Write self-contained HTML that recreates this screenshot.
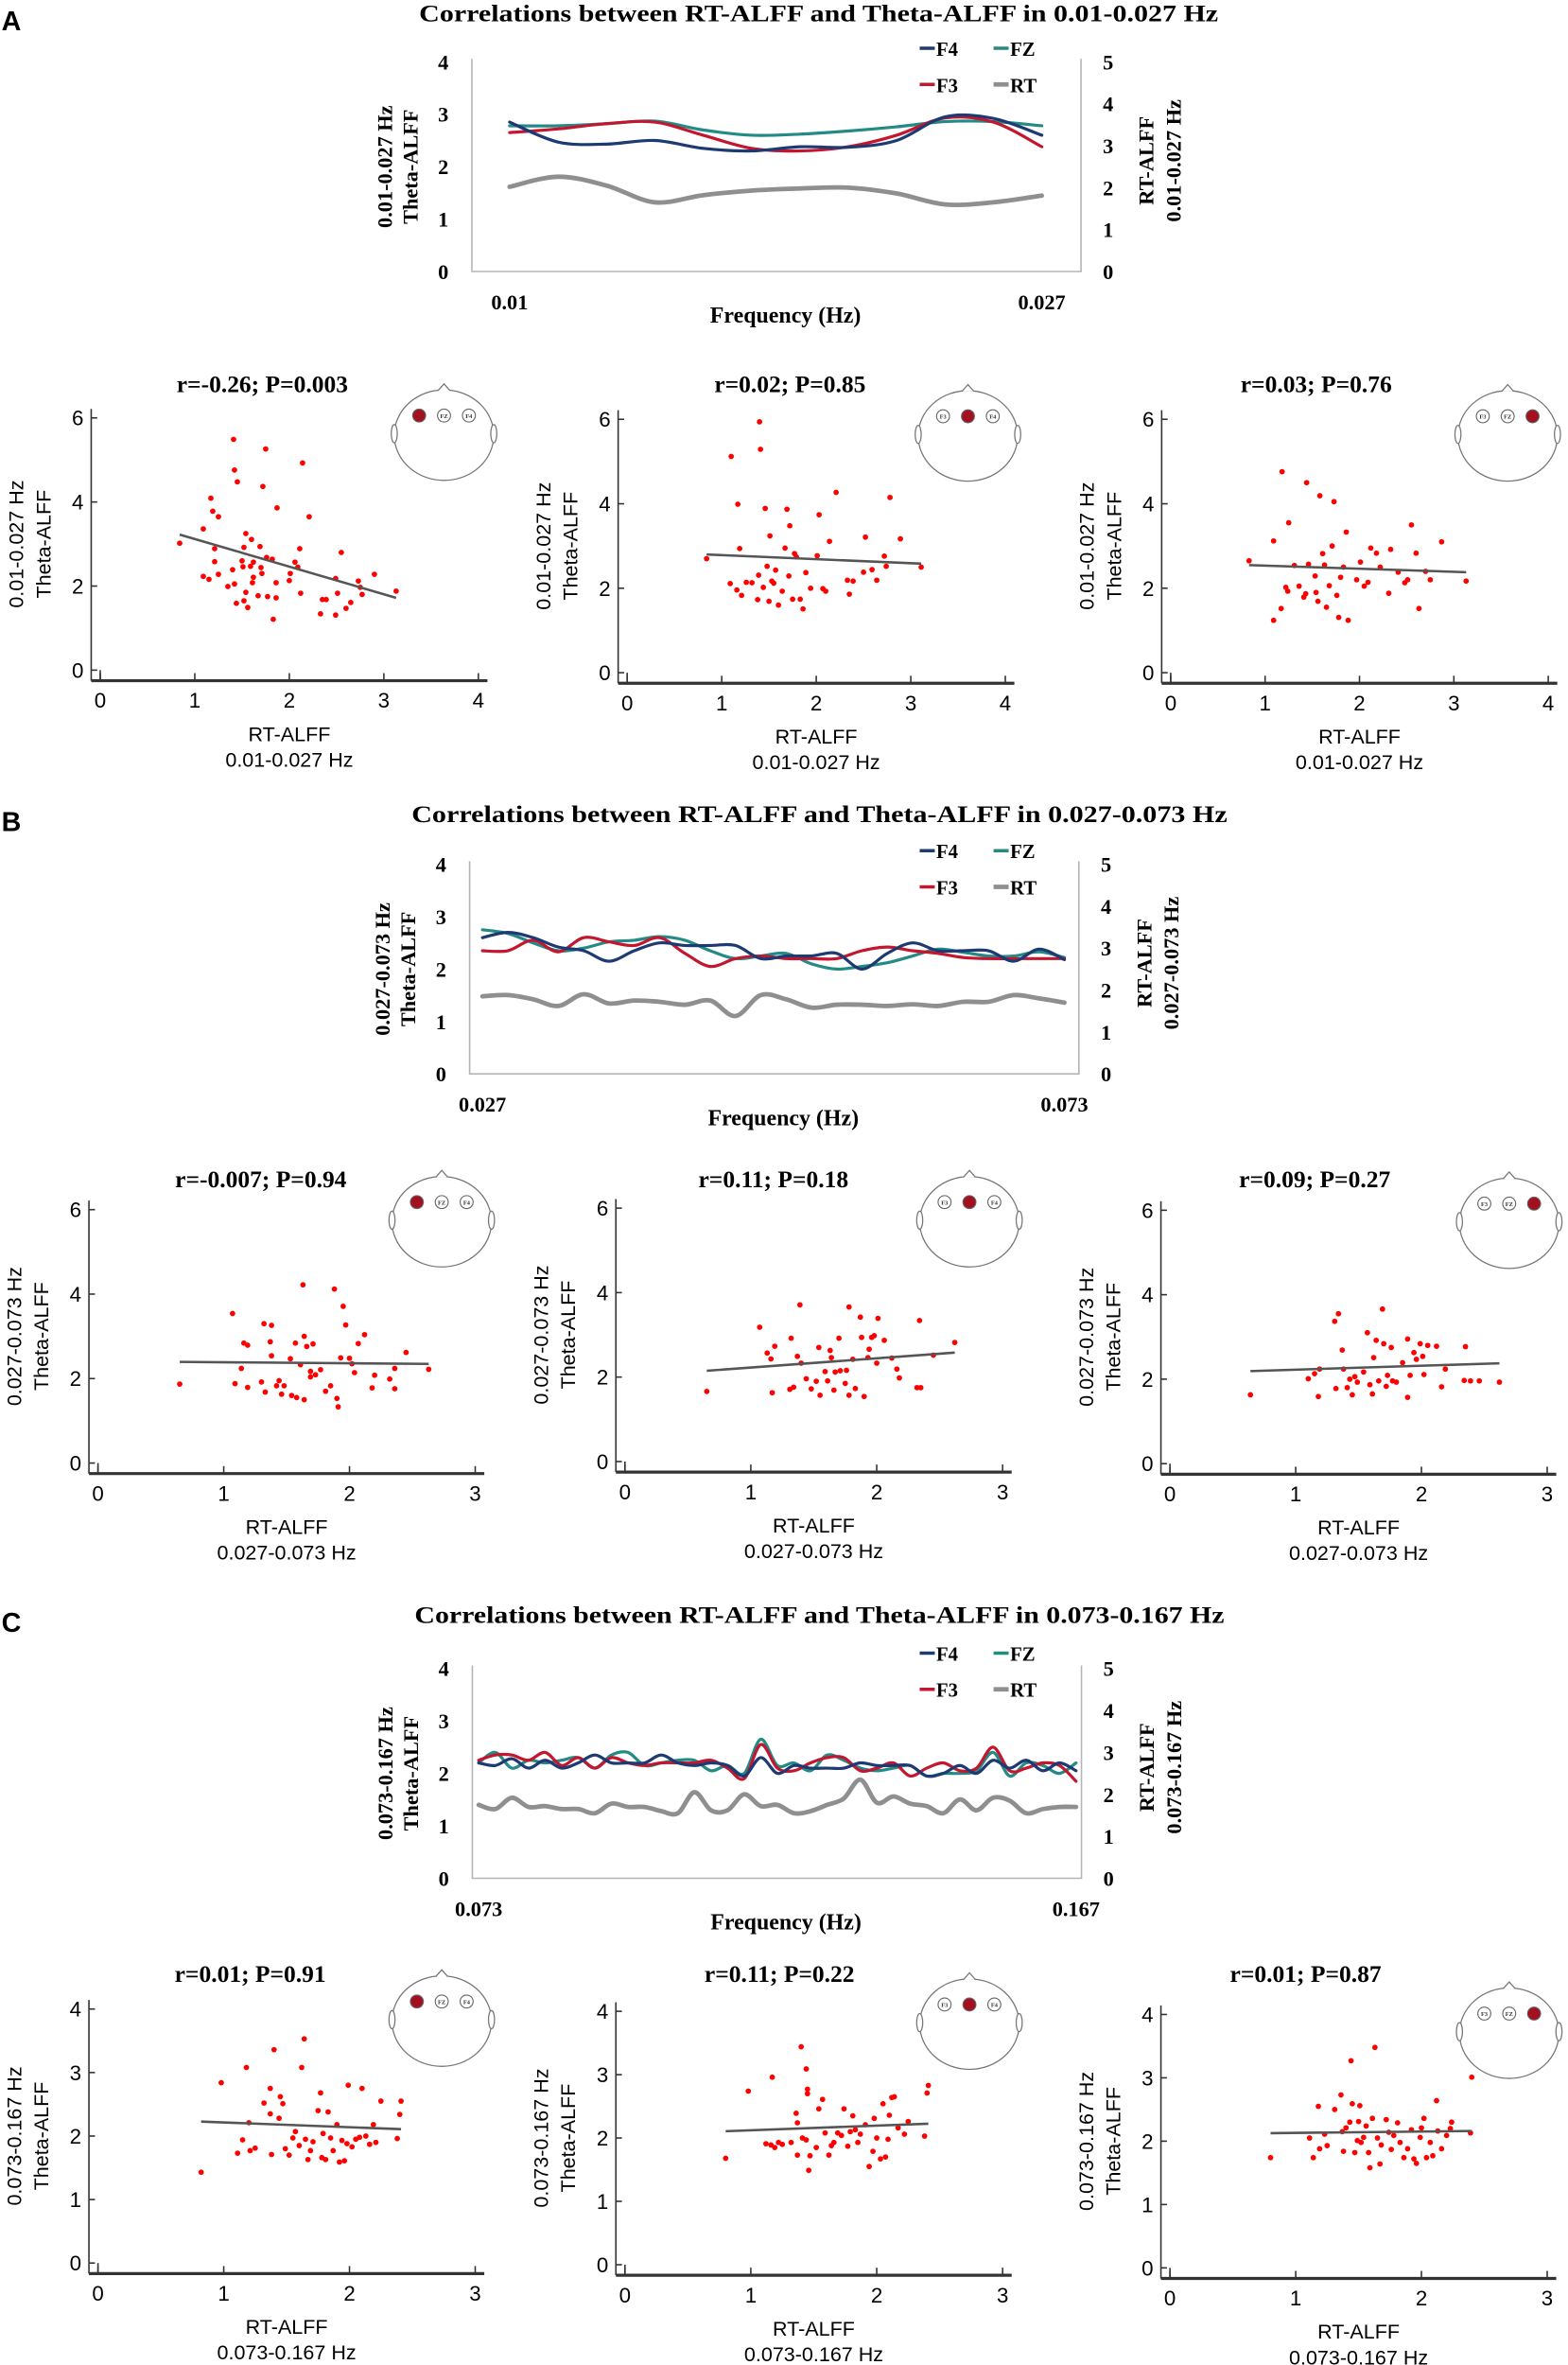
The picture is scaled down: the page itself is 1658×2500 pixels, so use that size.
<!DOCTYPE html>
<html><head><meta charset="utf-8">
<style>
html,body{margin:0;padding:0;background:#fff;}
svg{display:block;}
.ser{font-family:"Liberation Serif",serif;font-weight:bold;}
.san{font-family:"Liberation Sans",sans-serif;}
</style></head>
<body>
<svg id="fig" width="1658" height="2500" viewBox="0 0 1040 1568" preserveAspectRatio="none" xmlns="http://www.w3.org/2000/svg">
<text x="1" y="20" class="san" font-weight="bold" font-size="18">A</text>
<text x="1" y="551" class="san" font-weight="bold" font-size="18">B</text>
<text x="1" y="1082" class="san" font-weight="bold" font-size="18">C</text>
</svg>
<script>
// ---------- line chart data ----------
const lineA_F4=[2.85,2.47,2.43,2.5,2.35,2.3,2.38,2.37,2.5,2.95,2.92,2.6];
const lineA_FZ=[2.78,2.78,2.82,2.87,2.7,2.6,2.62,2.68,2.76,2.86,2.86,2.78];
const lineA_F3=[2.65,2.72,2.82,2.85,2.6,2.35,2.3,2.38,2.6,2.93,2.85,2.38];
const lineA_RT=[2.02,2.26,2.05,1.65,1.82,1.93,1.98,2.0,1.86,1.6,1.65,1.81];
const lineB_F4=[2.6,2.7,2.6,2.42,2.35,2.15,2.35,2.5,2.45,2.45,2.45,2.2,2.25,2.25,2.3,2.0,2.3,2.5,2.35,2.35,2.35,2.15,2.38,2.18];
const lineB_FZ=[2.75,2.68,2.5,2.35,2.4,2.52,2.55,2.62,2.55,2.35,2.2,2.25,2.3,2.1,2.0,2.05,2.12,2.25,2.38,2.32,2.25,2.25,2.33,2.22];
const lineB_F3=[2.35,2.35,2.55,2.33,2.6,2.52,2.45,2.6,2.3,2.05,2.2,2.25,2.2,2.2,2.2,2.35,2.42,2.35,2.3,2.22,2.2,2.2,2.2,2.2];
const lineB_RT=[1.85,1.88,1.78,1.62,1.9,1.68,1.75,1.72,1.65,1.75,1.38,1.88,1.78,1.58,1.65,1.65,1.62,1.66,1.62,1.72,1.72,1.88,1.8,1.7];
const lineC_F4=[2.2,2.15,2.28,2.1,2.25,2.1,2.2,2.35,2.2,2.2,2.2,2.35,2.2,2.15,2.2,2.15,1.95,2.3,2.0,2.15,2.1,2.1,2.1,2.2,2.15,2.15,2.15,1.95,2.0,2.15,2.0,2.25,2.1,2.25,2.05,2.2,2.05];
const lineC_FZ=[2.2,2.4,2.1,2.25,2.2,2.25,2.3,2.1,2.35,2.4,2.15,2.2,2.25,2.25,2.05,2.15,2.0,2.65,2.15,2.2,2.05,2.35,2.25,2.1,2.05,2.1,2.15,1.95,2.0,2.0,2.05,2.4,1.95,2.2,2.15,2.0,2.2];
const lineC_F3=[2.25,2.35,2.35,2.25,2.4,2.15,2.3,2.1,2.3,2.2,2.15,2.2,2.2,2.2,2.25,2.1,1.9,2.55,2.1,2.05,2.2,2.3,2.3,2.05,2.1,2.2,1.95,2.1,2.2,2.05,2.1,2.5,2.05,2.1,2.2,2.15,1.85];
const lineC_RT=[1.75,1.65,1.92,1.7,1.72,1.65,1.65,1.55,1.78,1.7,1.7,1.6,1.55,2.05,1.62,1.62,2.0,1.72,1.75,1.55,1.6,1.75,1.9,2.35,1.8,1.95,1.78,1.72,1.55,1.88,1.62,1.92,1.85,1.55,1.65,1.7,1.7];
const leftTicks=[0,1,2,3,4];
const rightTicks=[0,1,2,3,4,5];

// ---------- scatter data ----------
const sA1_x=[0.84,1.09,1.09,1.15,1.17,1.19,1.21,1.21,1.25,1.25,1.35,1.40,1.41,1.42,1.42,1.45,1.44,1.50,1.51,1.52,1.52,1.54,1.54,1.56,1.59,1.60,1.61,1.62,1.62,1.67,1.69,1.70,1.71,1.72,1.75,1.76,1.77,1.82,1.83,1.86,1.86,1.87,2.00,2.01,2.06,2.09,2.11,2.12,2.14,2.21,2.33,2.35,2.39,2.49,2.49,2.51,2.55,2.60,2.65,2.73,2.75,2.77,2.90,3.13];
const sA1_y=[3.02,3.36,2.23,2.16,4.09,3.78,2.89,2.58,3.65,2.28,1.99,2.39,5.49,4.76,2.05,4.48,1.59,2.60,2.46,1.65,2.92,1.85,3.25,1.49,2.47,3.11,2.08,2.57,2.21,1.77,2.94,2.44,2.30,4.37,5.26,2.68,1.75,2.64,1.21,2.08,1.72,3.86,2.13,2.30,2.57,2.45,2.89,1.83,4.93,3.65,1.34,1.68,1.68,1.31,2.18,1.83,2.80,1.47,1.61,2.12,1.97,1.80,2.28,1.88];
const sA2_x=[0.84,1.10,1.09,1.17,1.19,1.16,1.21,1.26,1.32,1.40,1.41,1.39,1.38,1.44,1.46,1.48,1.50,1.51,1.53,1.55,1.57,1.60,1.64,1.67,1.69,1.71,1.72,1.75,1.77,1.79,1.83,1.86,1.89,1.94,2.01,2.03,2.07,2.10,2.14,2.21,2.33,2.35,2.39,2.50,2.52,2.59,2.64,2.72,2.74,2.78,2.89,3.11];
const sA2_y=[2.70,5.12,2.11,3.99,2.94,1.96,1.83,2.14,2.13,5.94,5.29,2.31,1.73,2.02,3.89,2.52,1.69,3.24,2.17,2.12,2.43,1.60,1.93,2.95,3.87,2.29,3.48,1.74,2.82,2.74,1.74,1.51,2.37,2.00,2.77,3.74,1.99,1.93,3.11,4.27,2.19,1.86,2.17,2.38,3.21,2.44,2.19,2.76,2.52,4.15,3.17,2.50];
const sA3_x=[0.83,1.09,1.09,1.17,1.18,1.22,1.24,1.25,1.31,1.36,1.41,1.43,1.44,1.46,1.53,1.54,1.56,1.58,1.61,1.63,1.65,1.68,1.71,1.73,1.76,1.78,1.80,1.83,1.86,1.88,1.97,2.01,2.05,2.09,2.12,2.18,2.22,2.31,2.33,2.41,2.48,2.51,2.55,2.60,2.63,2.70,2.75,2.87,3.13];
const sA3_y=[2.65,1.24,3.12,1.52,4.76,2.02,1.93,3.55,2.54,2.05,1.79,1.87,4.50,2.57,2.29,1.90,1.69,4.19,2.82,2.55,1.55,2.06,3.00,4.05,1.83,1.31,2.26,2.50,3.33,1.24,2.20,2.62,2.05,2.14,2.95,2.83,2.50,1.88,2.92,2.38,2.13,2.20,3.50,2.83,1.52,2.40,2.20,3.10,2.17];
const sB1_x=[0.65,1.07,1.09,1.14,1.16,1.19,1.19,1.30,1.32,1.33,1.37,1.38,1.38,1.42,1.44,1.46,1.48,1.53,1.54,1.57,1.58,1.61,1.63,1.64,1.64,1.66,1.69,1.69,1.71,1.73,1.77,1.81,1.85,1.88,1.90,1.91,1.93,1.95,1.97,2.00,2.02,2.04,2.07,2.12,2.18,2.20,2.32,2.36,2.36,2.45,2.63];
const sB1_y=[1.87,3.54,1.88,2.24,2.84,2.79,1.79,1.92,3.30,1.68,2.87,2.54,3.26,1.83,1.95,1.63,1.83,2.47,1.60,2.84,1.55,2.33,4.22,3.00,1.50,2.76,2.17,2.04,2.82,2.09,2.21,1.70,1.83,4.12,1.53,1.33,2.49,3.71,3.27,2.48,2.35,2.14,2.83,3.04,1.78,2.08,1.99,2.24,1.76,2.62,2.22];
const sB2_x=[0.65,1.07,1.13,1.16,1.17,1.19,1.31,1.32,1.34,1.37,1.39,1.40,1.44,1.48,1.52,1.54,1.55,1.59,1.61,1.63,1.64,1.66,1.67,1.70,1.71,1.75,1.76,1.78,1.78,1.81,1.83,1.87,1.88,1.90,1.93,1.94,1.96,1.98,2.00,2.01,2.06,2.12,2.16,2.18,2.32,2.34,2.35,2.45,2.62];
const sB2_y=[1.66,3.18,2.57,2.43,1.63,2.73,1.71,2.92,1.76,2.49,3.71,2.33,1.96,1.72,1.90,2.70,1.57,2.13,1.91,2.63,2.46,1.69,2.12,2.92,2.15,1.85,2.16,3.66,1.57,2.42,1.73,3.42,2.94,1.54,2.46,2.66,2.94,2.98,2.33,3.39,2.87,2.45,2.19,1.98,1.75,3.34,1.75,2.52,2.82];
const sB3_x=[0.64,1.10,1.15,1.18,1.19,1.31,1.34,1.32,1.37,1.38,1.41,1.43,1.45,1.47,1.49,1.54,1.57,1.59,1.61,1.62,1.64,1.66,1.69,1.70,1.72,1.73,1.76,1.77,1.80,1.85,1.89,1.89,1.91,1.94,1.96,1.99,2.01,2.02,2.05,2.12,2.16,2.19,2.34,2.35,2.39,2.46,2.62];
const sB3_y=[1.63,2.01,2.13,1.59,2.24,3.37,3.55,1.78,2.69,2.24,1.80,2.00,1.63,2.06,1.93,2.17,3.10,1.87,1.65,2.51,2.92,1.96,3.66,2.84,1.83,2.09,2.75,1.96,1.93,2.39,2.95,1.57,2.09,2.63,2.47,2.84,2.54,2.11,2.80,2.78,1.82,2.24,1.97,2.77,1.96,1.96,1.93];
const sC1_x=[0.82,0.98,1.11,1.15,1.18,1.20,1.21,1.25,1.32,1.37,1.37,1.38,1.40,1.44,1.45,1.47,1.49,1.52,1.55,1.57,1.60,1.62,1.64,1.65,1.67,1.69,1.71,1.75,1.77,1.78,1.79,1.81,1.83,1.85,1.87,1.90,1.92,1.94,1.96,1.98,1.99,2.02,2.05,2.08,2.10,2.13,2.16,2.19,2.21,2.25,2.38,2.40,2.41];
const sC1_y=[1.43,2.84,1.73,1.94,3.08,2.21,1.77,1.81,2.52,2.75,2.35,1.71,3.36,2.28,2.62,2.51,1.80,1.70,1.97,2.07,1.85,3.08,3.53,1.95,1.63,1.77,1.91,2.40,2.68,1.66,2.04,1.63,2.38,1.97,1.77,2.18,1.59,1.93,1.61,1.88,2.80,1.83,1.95,1.98,2.75,2.00,1.87,2.18,1.90,2.55,1.96,2.34,2.55];
const sC2_x=[0.80,0.98,1.12,1.16,1.17,1.19,1.22,1.25,1.32,1.36,1.37,1.37,1.40,1.41,1.44,1.44,1.45,1.45,1.46,1.47,1.52,1.54,1.57,1.59,1.62,1.64,1.66,1.69,1.72,1.74,1.77,1.79,1.81,1.83,1.85,1.87,1.91,1.94,1.97,1.98,2.00,2.03,2.05,2.07,2.09,2.10,2.12,2.14,2.17,2.22,2.25,2.38,2.40,2.41];
const sC2_y=[1.68,2.74,1.91,1.89,2.96,1.85,1.93,1.90,1.93,2.39,1.73,2.24,3.44,2.00,3.09,1.97,2.77,2.70,1.49,1.72,1.85,2.46,2.61,2.08,1.73,1.88,1.93,2.08,2.04,2.46,1.87,2.10,2.35,2.13,1.93,2.06,2.21,1.55,1.79,2.31,2.00,1.67,2.54,1.70,1.98,2.36,2.64,2.65,2.16,2.06,2.26,2.03,2.71,2.83];
const sC3_x=[0.80,1.11,1.14,1.18,1.19,1.23,1.25,1.31,1.36,1.37,1.38,1.40,1.43,1.44,1.45,1.47,1.49,1.50,1.51,1.52,1.54,1.56,1.58,1.59,1.61,1.63,1.65,1.67,1.68,1.72,1.74,1.76,1.78,1.81,1.83,1.86,1.89,1.92,1.94,1.96,1.99,2.00,2.02,2.04,2.07,2.09,2.12,2.13,2.16,2.20,2.23,2.24,2.39,2.40];
const sC3_y=[1.74,2.05,1.74,2.55,1.88,2.11,1.93,2.50,2.73,2.15,1.84,2.21,2.30,3.27,2.59,1.82,2.01,2.31,2.56,1.98,2.06,2.24,1.82,1.58,2.36,3.48,2.05,1.64,1.94,2.34,2.14,1.87,2.09,2.29,1.98,1.74,1.88,2.18,1.72,1.65,2.06,2.21,2.36,1.74,1.98,1.77,2.64,2.16,1.88,2.09,2.20,2.30,2.13,3.01];
const scatterTitles=["r=-0.26; P=0.003","r=0.02; P=0.85","r=0.03; P=0.76","r=-0.007; P=0.94","r=0.11; P=0.18","r=0.09; P=0.27","r=0.01; P=0.91","r=0.11; P=0.22","r=0.01; P=0.87"];
const bandLabels=["0.01-0.027 Hz","0.027-0.073 Hz","0.073-0.167 Hz"];
const freqEnds=[["0.01","0.027"],["0.027","0.073"],["0.073","0.167"]];
const xTicksA=[0,1,2,3,4], xTicksBC=[0,1,2,3];
const yTicksAB=[0,2,4,6], yTicksC=[0,1,2,3,4];

const NS="http://www.w3.org/2000/svg";
const svg=document.getElementById('fig');
function mk(tag,attrs,parent){const e=document.createElementNS(NS,tag);for(const k in attrs)e.setAttribute(k,attrs[k]);(parent||svg).appendChild(e);return e;}
function txt(s,attrs,parent){const e=mk('text',attrs,parent);e.textContent=s;return e;}
function smooth(pts){let d='M'+pts[0][0].toFixed(2)+','+pts[0][1].toFixed(2);
 for(let i=0;i<pts.length-1;i++){const p0=pts[i-1]||pts[i],p1=pts[i],p2=pts[i+1],p3=pts[i+2]||p2;
  const c1=[p1[0]+(p2[0]-p0[0])/6,p1[1]+(p2[1]-p0[1])/6],c2=[p2[0]-(p3[0]-p1[0])/6,p2[1]-(p3[1]-p1[1])/6];
  d+=' C'+c1[0].toFixed(2)+','+c1[1].toFixed(2)+' '+c2[0].toFixed(2)+','+c2[1].toFixed(2)+' '+p2[0].toFixed(2)+','+p2[1].toFixed(2);}
 return d;}

// ---------- line charts ----------
const lineCfg=[
 {id:'a',title:'Correlations between RT-ALFF and Theta-ALFF in 0.01-0.027 Hz',ty:14,tx1:278,tx2:808,L:313,R:717,y0:180,y4:41,d0:338,d1:691,F4:lineA_F4,FZ:lineA_FZ,F3:lineA_F3,RT:lineA_RT,legY:32},
 {id:'b',title:'Correlations between RT-ALFF and Theta-ALFF in 0.027-0.073 Hz',ty:545,tx1:273,tx2:814,L:311.5,R:715.6,y0:712,y4:573,d0:320,d1:706,F4:lineB_F4,FZ:lineB_FZ,F3:lineB_F3,RT:lineB_RT,legY:564},
 {id:'c',title:'Correlations between RT-ALFF and Theta-ALFF in 0.073-0.167 Hz',ty:1076,tx1:275,tx2:812,L:313.3,R:717.3,y0:1245.3,y4:1106.2,d0:317.5,d1:713.7,F4:lineC_F4,FZ:lineC_FZ,F3:lineC_F3,RT:lineC_RT,legY:1096}];
const colors={F4:'#1d3a72',FZ:'#238a86',F3:'#c3162f',RT:'#8f8f8f'};
lineCfg.forEach((c,ci)=>{
 const g=mk('g',{});
 
 
 const t=txt(c.title,{x:c.tx1,y:c.ty,'font-size':16,class:'ser',textLength:c.tx2-c.tx1,lengthAdjust:'spacingAndGlyphs'},g);
 
 
 const yS=v=>c.y0-(c.y0-c.y4)*v/4;
 const yR=v=>c.y0-(c.y0-c.y4)*v/5;
 mk('path',{d:`M${c.L},${c.y4-2}V${c.y0}H${c.R}V${c.y4-2}`,fill:'none',stroke:'#b5b5b5','stroke-width':1},g);
 leftTicks.forEach(v=>{const e=txt(String(v),{x:c.L-19,y:yS(v)+5,'font-size':14,class:'ser','text-anchor':'middle'},g);
  });
 rightTicks.forEach(v=>{const e=txt(String(v),{x:c.R+18,y:yR(v)+5,'font-size':14,class:'ser','text-anchor':'middle'},g);
  });
 const cy=(c.y0+c.y4)/2;
 [[bandLabels[ci],c.L-53],['Theta-ALFF',c.L-36]].forEach(([s,x])=>{const e=txt(s,{x:x,y:cy,'font-size':14,class:'ser','text-anchor':'middle',transform:`rotate(-90 ${x} ${cy})`},g);
  });
 [['RT-ALFF',c.R+48],[bandLabels[ci],c.R+66]].forEach(([s,x])=>{const e=txt(s,{x:x,y:cy-4,'font-size':14,class:'ser','text-anchor':'middle',transform:`rotate(-90 ${x} ${cy-4})`},g);
  });
 const f1=txt(freqEnds[ci][0],{x:c.d0,y:c.y0+25,'font-size':14,class:'ser','text-anchor':'middle'},g);
 
 const f2=txt(freqEnds[ci][1],{x:c.d1,y:c.y0+25,'font-size':14,class:'ser','text-anchor':'middle'},g);
 
 const fx=txt('Frequency (Hz)',{x:(c.L+c.R)/2+6,y:c.y0+34,'font-size':15,class:'ser','text-anchor':'middle'},g);
 
 ['RT','FZ','F3','F4'].forEach(k=>{
  const arr=c[k],n=arr.length;
  const pts=arr.map((v,i)=>[c.d0+(c.d1-c.d0)*i/(n-1),k==='RT'?yR(v):yS(v)]);
  const p=mk('path',{d:smooth(pts),fill:'none',stroke:colors[k],'stroke-width':k==='RT'?3:2,'stroke-linecap':'round'},g);
  
  
 });
 [['F4',612,c.legY],['FZ',661,c.legY],['F3',612,c.legY+24],['RT',661,c.legY+24]].forEach(([k,x,y])=>{
  const lg=mk('g',{},g);
  
  
  mk('line',{x1:x-2,x2:x+8,y1:y,y2:y,stroke:colors[k],'stroke-width':k==='RT'?3:2.2},lg);
  txt(k,{x:x+9,y:y+5,'font-size':13,class:'ser'},lg);
 });
});

// ---------- scatter panels ----------
const scat=[
 {x:sA1_x,y:sA1_y,x0:66.5,xu:62.7,y0:444.3,yu:27.87,xt:xTicksA,yt:yTicksAB,ymax:6,tx:174,ty:260,hx:294.5,hy:288.5,e:0,row:0},
 {x:sA2_x,y:sA2_y,x0:416,xu:62.7,y0:446,yu:28,xt:xTicksA,yt:yTicksAB,ymax:6,tx:524,ty:260,hx:642,hy:289,e:1,row:0},
 {x:sA3_x,y:sA3_y,x0:776.5,xu:62.6,y0:446,yu:28,xt:xTicksA,yt:yTicksAB,ymax:6,tx:873,ty:260,hx:1000,hy:289,e:2,row:0},
 {x:sB1_x,y:sB1_y,x0:65,xu:83.4,y0:970,yu:28,xt:xTicksBC,yt:yTicksAB,ymax:6,tx:173,ty:787,hx:293,hy:810,e:0,row:1},
 {x:sB2_x,y:sB2_y,x0:414.5,xu:83.5,y0:969,yu:28,xt:xTicksBC,yt:yTicksAB,ymax:6,tx:513,ty:787,hx:643,hy:810,e:1,row:1},
 {x:sB3_x,y:sB3_y,x0:776,xu:83.4,y0:970.4,yu:28,xt:xTicksBC,yt:yTicksAB,ymax:6,tx:872,ty:787,hx:1001,hy:811,e:2,row:1},
 {x:sC1_x,y:sC1_y,x0:65,xu:83.4,y0:1500.4,yu:42.1,xt:xTicksBC,yt:yTicksC,ymax:4,tx:166,ty:1314,hx:293,hy:1340,e:0,row:2},
 {x:sC2_x,y:sC2_y,x0:414.5,xu:83.5,y0:1501.5,yu:42,xt:xTicksBC,yt:yTicksC,ymax:4,tx:517,ty:1314,hx:643,hy:1342,e:1,row:2},
 {x:sC3_x,y:sC3_y,x0:776,xu:83.4,y0:1503.6,yu:42,xt:xTicksBC,yt:yTicksC,ymax:4,tx:866,ty:1314,hx:1001,hy:1348,e:2,row:2}];
scat.forEach((s,si)=>{
 const g=mk('g',{});
 
 
 const X=v=>s.x0+s.xu*v, Y=v=>s.y0-s.yu*v;
 const xMaxT=s.xt[s.xt.length-1];
 const axL=s.x0-6, axB=s.y0+7, axT=Y(s.ymax)-6, axR=X(xMaxT)+6;
 mk('line',{x1:axL,x2:axL,y1:axT,y2:axB,stroke:'#333','stroke-width':1},g);
 mk('line',{x1:axL,x2:axR,y1:axB,y2:axB,stroke:'#333','stroke-width':2},g);
 s.yt.forEach(v=>{mk('line',{x1:axL,x2:axL+4,y1:Y(v),y2:Y(v),stroke:'#333','stroke-width':1},g);
  const e=txt(String(v),{x:axL-5,y:Y(v)+5,'font-size':14,class:'san','text-anchor':'end'},g);
  });
 s.xt.forEach(v=>{mk('line',{x1:X(v),x2:X(v),y1:axB,y2:axB-5,stroke:'#333','stroke-width':1},g);
  const e=txt(String(v),{x:X(v),y:axB+18,'font-size':14,class:'san','text-anchor':'middle'},g);
  });
 mk('line',{x1:X(0),x2:X(0),y1:Y(0),y2:axB,stroke:'#333','stroke-width':1},g);
 const mid=X(xMaxT/2);
 const xl1=txt('RT-ALFF',{x:mid,y:axB+40,'font-size':13.5,class:'san','text-anchor':'middle'},g);
 
 const xl2=txt(bandLabels[s.row],{x:mid,y:axB+57,'font-size':13.5,class:'san','text-anchor':'middle'},g);
 
 const cy=(Y(0)+Y(s.ymax))/2;
 const x1=s.x0-51, x2=s.x0-33;
 const yl1=txt(bandLabels[s.row],{x:x1,y:cy,'font-size':13.5,class:'san','text-anchor':'middle',transform:`rotate(-90 ${x1} ${cy})`},g);
 
 const yl2=txt('Theta-ALFF',{x:x2,y:cy,'font-size':13.5,class:'san','text-anchor':'middle',transform:`rotate(-90 ${x2} ${cy})`},g);
 
 const tt=txt(scatterTitles[si],{x:s.tx,y:s.ty,'font-size':16,class:'ser','text-anchor':'middle'},g);
 
 const n=s.x.length;let mx=0,my=0;for(let i=0;i<n;i++){mx+=s.x[i];my+=s.y[i];}mx/=n;my/=n;
 let sxy=0,sxx=0;for(let i=0;i<n;i++){sxy+=(s.x[i]-mx)*(s.y[i]-my);sxx+=(s.x[i]-mx)**2;}
 const b=sxy/sxx,a=my-b*mx,xmin=Math.min(...s.x),xmax=Math.max(...s.x);
 for(let i=0;i<n;i++){const c=mk('circle',{cx:X(s.x[i]),cy:Y(s.y[i]),r:1.8,fill:'#ff0000'},g);
  
  }
 const fl=mk('line',{x1:X(xmin),y1:Y(a+b*xmin),x2:X(xmax),y2:Y(a+b*xmax),stroke:'#555','stroke-width':1.6},g);
 
 const h=mk('g',{},g);
 
 
 mk('ellipse',{cx:s.hx,cy:s.hy,rx:33,ry:30,fill:'#fff',stroke:'#777','stroke-width':0.8},h);
 mk('path',{d:`M${s.hx-4},${s.hy-29.5} L${s.hx},${s.hy-34} L${s.hx+4},${s.hy-29.5}`,fill:'#fff',stroke:'#777','stroke-width':0.8},h);
 mk('ellipse',{cx:s.hx-33,cy:s.hy-1,rx:2,ry:6,fill:'#fff',stroke:'#777','stroke-width':0.8},h);
 mk('ellipse',{cx:s.hx+33,cy:s.hy-1,rx:2,ry:6,fill:'#fff',stroke:'#777','stroke-width':0.8},h);
 ['F3','FZ','F4'].forEach((lab,k)=>{const ex=s.hx+(k-1)*16.5, ey=s.hy-13;const sel=k===s.e;
  mk('circle',{cx:ex,cy:ey,r:4.3,fill:sel?'#a3101f':'#fff',stroke:'#666','stroke-width':0.7},h);
  txt(lab,{x:ex,y:ey+1.6,'font-size':4,class:'ser','text-anchor':'middle',fill:sel?'#a3101f':'#333'},h);});
});
</script>
</body></html>
